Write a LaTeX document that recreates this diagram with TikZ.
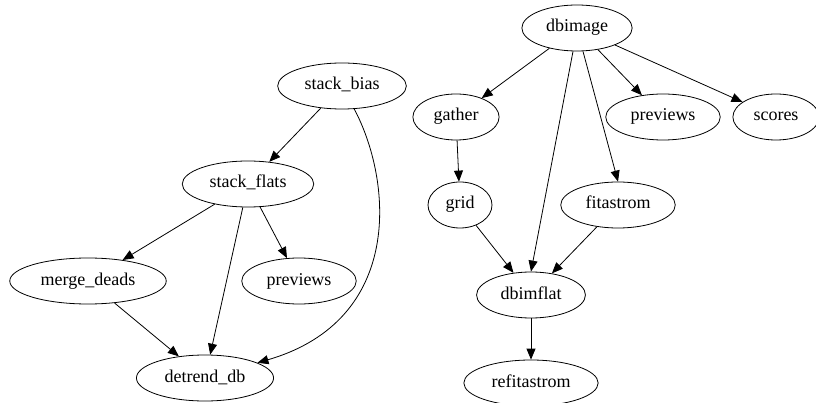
\documentclass[tikz,border=0pt]{standalone}
\usepackage{fontspec}
\setmainfont{Liberation Serif}
\usetikzlibrary{arrows.meta,shapes.geometric}

\tikzset{
  task/.style={draw,ellipse,thick,inner xsep=8pt,inner ysep=0pt,minimum height=46pt,
    minimum width=64pt,text height=12pt,text depth=4pt,font=\fontsize{18}{20}\selectfont},
  dep/.style={-{Triangle[length=11pt,width=9pt]},thick}
}

\begin{document}
\begin{tikzpicture}[x=1pt,y=-1pt]
\useasboundingbox (0,0) rectangle (816,403);
% bias / flats pipeline
\node[task] (sbias) at (342,86) {stack\_bias};
\node[task] (sflats) at (248,184) {stack\_flats};
\node[task] (mdeads) at (88,281) {merge\_deads};
\node[task] (prevl) at (299,281) {previews};
\node[task] (ddb) at (205,378) {detrend\_db};
\draw[dep] (sbias) -- (sflats);
\draw[dep] (sbias) .. controls (392,180) and (405,320) .. (ddb);
\draw[dep] (sflats) -- (mdeads);
\draw[dep] (sflats) -- (prevl);
\draw[dep] (sflats) -- (ddb);
\draw[dep] (mdeads) -- (ddb);
% image pipeline
\node[task] (dbimage) at (577,28) {dbimage};
\node[task] (gather) at (456,117) {gather};
\node[task] (prevr) at (663,117) {previews};
\node[task] (scores) at (776,117) {scores};
\node[task] (grid) at (460,205) {grid};
\node[task] (fitast) at (618,205) {fitastrom};
\node[task] (dbimflat) at (531,295) {dbimflat};
\node[task] (refit) at (531,383) {refitastrom};
\draw[dep] (dbimage) -- (gather);
\draw[dep] (dbimage.south) ++(-4,0) coordinate (dbl) (dbl) -- (dbimflat.north);
\draw[dep] (dbimage.south) ++(6,0) coordinate (dbr) (dbr) -- (fitast.north);
\draw[dep] (dbimage) -- (prevr);
\draw[dep] (dbimage) -- (scores);
\draw[dep] (gather) -- (grid);
\draw[dep] (grid) -- (dbimflat);
\draw[dep] (fitast) -- (dbimflat);
\draw[dep] (dbimflat) -- (refit);
\end{tikzpicture}
\end{document}
